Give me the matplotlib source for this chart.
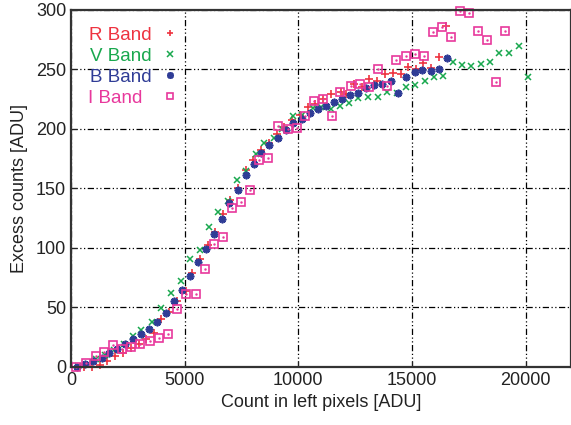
import matplotlib
matplotlib.use("Agg")
import matplotlib.pyplot as plt

plt.rcParams['font.family'] = ['Liberation Sans', 'DejaVu Sans']

# R band
r_x = [570, 908, 1272, 1592, 1930, 2294, 2662, 2982, 3290, 3640, 3978, 4311, 4662, 5075,
       5338, 5658, 6022, 6316, 6680, 7004, 7338, 7706, 8026, 8377, 8728, 9048, 9386, 9724,
       10066, 10408, 10746, 11097, 11434, 11873, 12092, 12456, 12794, 13114, 13478, 13816,
       14167, 14504, 14825, 15162, 15482, 15846, 16184, 16522]
r_y = [0, 0, 1.7, 5.1, 9.3, 12.1, 16.3, 19.4, 23.4, 28.9, 40.2, 46.6, 55.1, 63.5,
       78.7, 90.8, 102.6, 113.2, 128.2, 140.0, 150.7, 165.3, 174.3, 182.1, 188.0, 195.4, 201.5, 207.4,
       211.6, 218.1, 220.9, 225.1, 229.1, 231.3, 229.3, 237.8, 235.5, 241.7, 240.3, 246.2,
       246.8, 246.2, 252.4, 250.2, 255.2, 251.5, 260.8, 286.9]

# V band
v_x = [307, 1097, 1491, 1886, 2325, 2732, 3101, 3583, 3978, 4417, 4855, 5219, 5658, 6066,
       6460, 6899, 7294, 7706, 8145, 8509, 8947, 9285, 9750, 10163, 10627, 10996, 11434,
       11829, 12237, 12645, 13083, 13496, 13891, 14329, 14724, 15118, 15557, 15965, 16373,
       16798, 17206, 17618, 18026, 18434, 18847, 19255, 19693, 20101]
v_y = [0.8, 6.5, 10.1, 14.1, 19.4, 26.1, 30.9, 38.2, 49.5, 61.8, 72.5, 90.8, 98.4, 117.5,
       130.1, 139.4, 157.4, 164.7, 178.8, 188.3, 192.8, 200.4, 210.8, 211.6, 217.3, 218.6, 216.5,
       219.5, 221.5, 225.7, 226.6, 226.6, 230.8, 230.4, 235.0, 236.9, 240.3, 243.4, 244.5,
       256.6, 253.8, 253.0, 254.4, 256.6, 264.2, 264.2, 270.1, 243.4]

# B band
b_x = [250, 614, 978, 1347, 1680, 2031, 2368, 2732, 3101, 3434, 3785, 4167, 4517, 4868,
       5219, 5583, 5921, 6272, 6623, 6974, 7338, 7706, 8040, 8377, 8728, 9092, 9461, 9781,
       10163, 10513, 10877, 11215, 11579, 11917, 12281, 12632, 12996, 13334, 13697, 14066,
       14399, 14750, 15118, 15452, 15820, 16184, 16535]
b_y = [0, 2.3, 5.1, 7.8, 12.1, 14.9, 19.6, 23.9, 27.6, 31.8, 38.2, 45.3, 55.1, 64.8,
       76.7, 87.9, 99.2, 111.9, 124.5, 137.7, 149.0, 161.1, 170.9, 179.9, 186.9, 192.8, 199.0, 205.2,
       208.0, 213.1, 216.7, 219.2, 222.4, 225.1, 228.5, 229.9, 234.2, 236.9, 237.5, 240.3,
       229.9, 243.4, 248.2, 249.6, 249.0, 250.4, 259.5]

# I band
i_x = [219, 658, 1097, 1447, 1855, 2250, 2662, 3057, 3465, 3873, 4268, 4662, 5075, 5482,
       5877, 6272, 6680, 7092, 7487, 7882, 8290, 8684, 9092, 9531, 9925, 10307, 10702, 11097,
       11504, 11842, 12311, 12719, 13114, 13509, 13891, 14285, 14724, 15118, 15526, 15921,
       16329, 16711, 17106, 17500, 17908, 18303, 18716, 19110]
i_y = [0, 3.1, 9.3, 12.6, 18.6, 14.9, 16.9, 19.1, 21.9, 24.2, 28.1, 48.7, 61.3, 61.3,
       82.4, 103.5, 109.0, 133.8, 138.5, 148.4, 174.3, 176.0, 202.4, 199.6, 200.9, 210.8, 223.7, 224.9,
       210.8, 231.3, 236.1, 237.5, 235.5, 250.4, 236.1, 258.0, 261.4, 263.1, 261.6, 281.4,
       286.1, 277.7, 299.3, 297.4, 282.7, 274.9, 239.7, 282.7]

red = '#ee3340'
green = '#19a84e'
blue = '#2f3c96'
pink = '#e8389c'

fig = plt.figure(figsize=(5.71, 4.25), dpi=100)
ax = fig.add_axes([0.1243, 0.1365, 0.8757, 0.84])

ax.plot(r_x, r_y, linestyle='none', marker='+', ms=5.5, mew=1.2, color=red, label='R Band', clip_on=False)
ax.plot(v_x, v_y, linestyle='none', marker='x', ms=4.5, mew=1.1, color=green, label='V Band', clip_on=False)
ax.plot(b_x, b_y, linestyle='none', marker=(8, 2, 0), ms=5.5, mew=1.3, color=blue, label='B Band', clip_on=False)
ax.plot(i_x, i_y, linestyle='none', marker='s', ms=5.5, mew=1.2, mfc='none', mec=pink, label='I Band\u2002', clip_on=False)
ax.plot(i_x, i_y, linestyle='none', marker='.', ms=1.5, color=pink, clip_on=False)

ax.set_xlim(0, 22000)
ax.set_ylim(0, 300)
ax.set_xticks([0, 5000, 10000, 15000, 20000])
ax.set_yticks([0, 50, 100, 150, 200, 250, 300])
ax.grid(True, color='black', linewidth=0.9, linestyle=(0, (5, 2, 1, 2, 1, 2)))
ax.tick_params(direction='in', length=4, labelsize=13, colors='#222222')
for s in ax.spines.values():
    s.set_linewidth(1.6)
    s.set_color('#333333')

ax.set_xlabel('Count in left pixels [ADU]', fontsize=13, color='#222222', labelpad=4)
ax.set_ylabel('Excess counts [ADU]', fontsize=13, color='#222222', labelpad=6)

leg = ax.legend(loc='upper left', frameon=False, markerfirst=False, fontsize=13.5,
                handlelength=0.8, handletextpad=0.6, labelspacing=0.2,
                borderaxespad=0.5, markerscale=0.9)
for txt, c in zip(leg.get_texts(), [red, green, blue, pink]):
    txt.set_color(c)

fig.savefig('out.png', dpi=100)
